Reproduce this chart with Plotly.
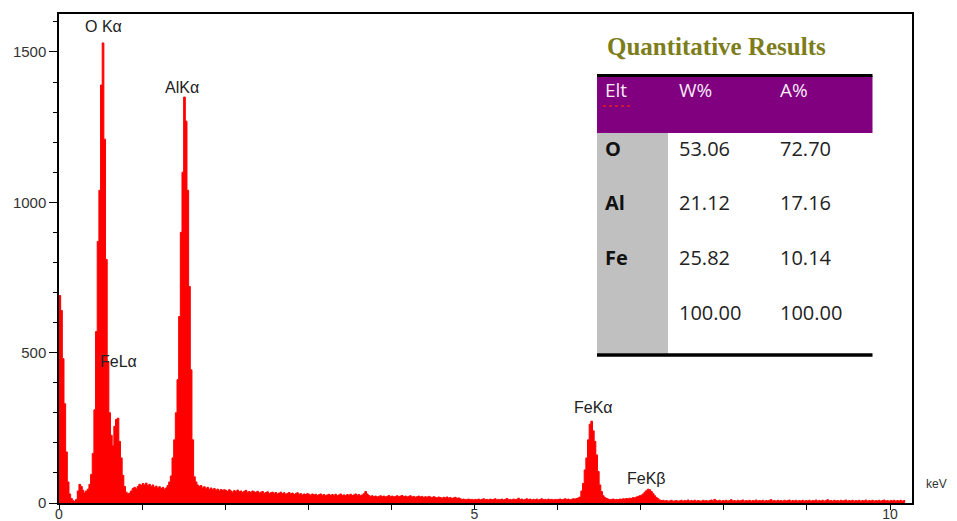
import plotly.graph_objects as go

# ---------------- data ----------------
channel_width_kev = 0.02
counts_0 = [690, 640, 480, 330, 170, 70, 30, 15, 8, 5,
            12, 40, 62, 55, 42, 33, 40, 46, 62, 95,
            165, 310, 570, 870, 1040, 1390, 1530, 1210, 810, 470,
            300, 225, 190, 255, 278, 282, 205, 150, 92, 55,
            36, 30, 33, 40, 48, 52, 47, 55, 62, 58]
counts_1 = [65, 60, 66, 58, 62, 55, 60, 52, 56, 50,
            54, 48, 52, 46, 50, 58, 70, 90, 150, 210,
            300, 410, 620, 900, 1100, 1350, 1270, 1040, 720, 443,
            210, 87, 70, 60, 55, 58, 50, 54, 47, 52,
            45, 50, 44, 48, 42, 46, 40, 45, 42, 44]
counts_2 = [42, 38, 44, 40, 36, 41, 38, 43, 37, 40,
            35, 39, 42, 36, 38, 34, 40, 37, 35, 39,
            33, 36, 38, 32, 35, 37, 31, 34, 36, 32,
            35, 30, 33, 36, 31, 34, 29, 32, 35, 30,
            33, 28, 31, 34, 29, 31, 27, 30, 28, 31]
counts_3 = [29, 26, 30, 27, 29, 25, 28, 30, 26, 28,
            24, 27, 29, 25, 28, 26, 29, 24, 27, 30,
            25, 27, 24, 28, 26, 29, 25, 27, 30, 26,
            28, 24, 27, 31, 38, 30, 25, 22, 24, 21,
            23, 20, 22, 24, 21, 23, 20, 22, 25, 21]
counts_4 = [23, 20, 22, 24, 21, 23, 25, 21, 23, 20,
            22, 24, 20, 22, 19, 21, 23, 20, 22, 18,
            21, 19, 22, 20, 18, 21, 19, 17, 20, 18,
            16, 19, 17, 20, 16, 18, 15, 17, 19, 15,
            17, 14, 12, 13, 11, 12, 13, 11, 12, 10]
counts_5 = [12, 11, 13, 10, 12, 14, 11, 12, 10, 13,
            11, 12, 14, 10, 12, 11, 13, 10, 12, 15,
            11, 12, 10, 13, 11, 12, 16, 11, 13, 10,
            12, 14, 11, 13, 10, 12, 11, 13, 10, 12,
            14, 11, 12, 10, 13, 11, 12, 10, 12, 11]
counts_6 = [12, 13, 11, 12, 14, 12, 13, 11, 12, 14,
            13, 15, 17, 20, 40, 65, 110, 150, 210, 262,
            272, 240, 205, 160, 105, 60, 38, 24, 18, 15,
            13, 11, 12, 13, 11, 12, 11, 13, 12, 14,
            13, 15, 14, 16, 15, 18, 17, 20, 22, 24]
counts_7 = [26, 30, 36, 41, 46, 44, 38, 31, 24, 18,
            14, 10, 8, 9, 7, 8, 6, 7, 9, 6,
            7, 8, 6, 7, 9, 6, 8, 7, 10, 6,
            8, 7, 9, 6, 8, 7, 6, 9, 7, 8,
            6, 8, 10, 7, 12, 8, 7, 9, 6, 8]
counts_8 = [7, 9, 6, 8, 11, 7, 8, 6, 9, 7,
            8, 10, 6, 8, 7, 9, 6, 8, 7, 10,
            6, 8, 7, 9, 6, 8, 7, 9, 11, 7,
            8, 6, 9, 7, 8, 6, 9, 7, 8, 10,
            6, 8, 7, 9, 6, 8, 7, 9, 6, 8]
counts_9 = [7, 9, 6, 8, 7, 10, 6, 8, 7, 9,
            6, 8, 11, 7, 8, 6, 9, 7, 8, 6,
            9, 7, 8, 10, 6, 8, 7, 9, 6, 8,
            7, 9, 6, 8, 7, 10, 6, 8, 7, 9,
            6, 8, 7, 9, 6, 8, 10, 7, 8, 6]
counts_10 = [8, 7, 9, 6, 8, 7, 9, 6, 8, 5]

counts = (counts_0 + counts_1 + counts_2 + counts_3 + counts_4 +
          counts_5 + counts_6 + counts_7 + counts_8 + counts_9 + counts_10)
energies = [round(i * channel_width_kev, 2) for i in range(len(counts))]

peak_labels = ["O K\u03b1", "AlK\u03b1", "FeL\u03b1", "FeK\u03b1", "FeK\u03b2"]

table_title = "Quantitative Results"
table_header = ["Elt", "W%", "A%"]
elements = ["O", "Al", "Fe", ""]
weight_pct = ["53.06", "21.12", "25.82", "100.00"]
atomic_pct = ["72.70", "17.16", "10.14", "100.00"]

x_tickvals = [0, 5, 10]
y_tickvals = [0, 500, 1000, 1500]

# ---------------- figure ----------------
OFF = 8                       # default page body margin
W, H = 957 - OFF, 521 - OFF
L, R, T, B = 59, 912, 14, 503  # plot area in page pixels


def px(x):
    return (x - L) / (R - L)


def py(y):
    return (B - y) / (B - T)


fig = go.Figure()
fig.add_trace(go.Scatter(
    x=energies, y=counts, mode="lines", line_shape="hv",
    line=dict(color="#ff0000", width=1), fill="tozeroy",
    fillcolor="#ff0000", hoverinfo="skip", showlegend=False))

axis_font = dict(family="Liberation Sans, Arial", size=15, color="#333333")

fig.update_layout(
    width=W, height=H,
    margin=dict(l=L - OFF, r=W - (R - OFF), t=T - OFF, b=H - (B - OFF), pad=0),
    paper_bgcolor="white", plot_bgcolor="white",
    showlegend=False,
    xaxis=dict(range=[0, (R - L) / 83.1], tickvals=x_tickvals,
               ticktext=[str(v) for v in x_tickvals],
               ticks="outside", ticklen=5, tickcolor="black", tickwidth=1,
               ticklabelstandoff=-8,
               showline=True, linecolor="black", linewidth=1.5, mirror=True,
               showgrid=False, zeroline=False, automargin=False,
               tickfont=dict(family="Liberation Sans, Arial", size=14,
                             color="#333333"),
               minor=dict(dtick=1, ticks="outside", ticklen=5,
                          tickcolor="black", showgrid=False)),
    yaxis=dict(range=[0, (B - T) / 0.3007], tickvals=y_tickvals,
               ticks="outside", ticklen=8, tickcolor="black", tickwidth=1,
               showline=True, linecolor="black", linewidth=1.5, mirror=True,
               showgrid=False, zeroline=False, automargin=False,
               tickfont=axis_font,
               minor=dict(dtick=100, ticks="outside", ticklen=4,
                          tickcolor="black", showgrid=False)),
)

# peak labels (data coordinates)
label_pos = [(0.53, 1586), (1.486, 1382), (0.71, 472), (6.426, 316), (7.064, 83)]
for text, (xe, yc) in zip(peak_labels, label_pos):
    fig.add_annotation(x=xe, y=yc, xref="x", yref="y", text=text,
                       showarrow=False, xanchor="center", yanchor="middle",
                       font=dict(family="Liberation Sans, Arial", size=16,
                                 color="#222222"))
fig.add_annotation(x=px(936), y=py(484), xref="paper", yref="paper",
                   text="keV", showarrow=False, xanchor="center",
                   yanchor="middle",
                   font=dict(family="Liberation Sans, Arial", size=12,
                             color="#333333"))

# ---------------- results table ----------------
tl, tr, tg = 597, 872.5, 668
shapes = [
    dict(type="rect", xref="paper", yref="paper", x0=px(tl), x1=px(tr),
         y0=py(133), y1=py(76), fillcolor="#800080", line=dict(width=0),
         layer="above"),
    dict(type="rect", xref="paper", yref="paper", x0=px(tl), x1=px(tg),
         y0=py(353.5), y1=py(133), fillcolor="#c0c0c0", line=dict(width=0),
         layer="above"),
    dict(type="line", xref="paper", yref="paper", x0=px(tl), x1=px(tr),
         y0=py(75.5), y1=py(75.5), line=dict(color="black", width=3),
         layer="above"),
    dict(type="line", xref="paper", yref="paper", x0=px(tl), x1=px(tr),
         y0=py(355), y1=py(355), line=dict(color="black", width=3.5),
         layer="above"),
    dict(type="line", xref="paper", yref="paper", x0=px(603), x1=px(632),
         y0=py(106), y1=py(106), line=dict(color="#e02020", width=1.5,
                                           dash="dot"),
         layer="above"),
]
fig.update_layout(shapes=shapes)

fig.add_annotation(x=px(716.5), y=py(46), xref="paper", yref="paper",
                   text="<b>" + table_title + "</b>", showarrow=False,
                   xanchor="center", yanchor="middle",
                   font=dict(family="Liberation Serif, Times New Roman",
                             size=25, color="#7d7d1c"))

col_x = [603, 677, 778]
for cx, h in zip(col_x, table_header):
    fig.add_annotation(x=px(cx), y=py(90), xref="paper", yref="paper",
                       text=h, showarrow=False, xanchor="left",
                       yanchor="middle",
                       font=dict(family="Open Sans", size=19,
                                 color="#f6eaf6"))

row_y = [148, 202.5, 257, 312]
for ry, el, w, a in zip(row_y, elements, weight_pct, atomic_pct):
    if el:
        fig.add_annotation(x=px(col_x[0]), y=py(ry), xref="paper",
                           yref="paper", text="<b>" + el + "</b>",
                           showarrow=False, xanchor="left", yanchor="middle",
                           font=dict(family="Open Sans", size=20,
                                     color="#111111"))
    for cx, v in zip(col_x[1:], (w, a)):
        fig.add_annotation(x=px(cx), y=py(ry), xref="paper", yref="paper",
                           text=v, showarrow=False, xanchor="left",
                           yanchor="middle",
                           font=dict(family="Open Sans", size=20,
                                     color="#222222"))

fig.write_html("out.html")
